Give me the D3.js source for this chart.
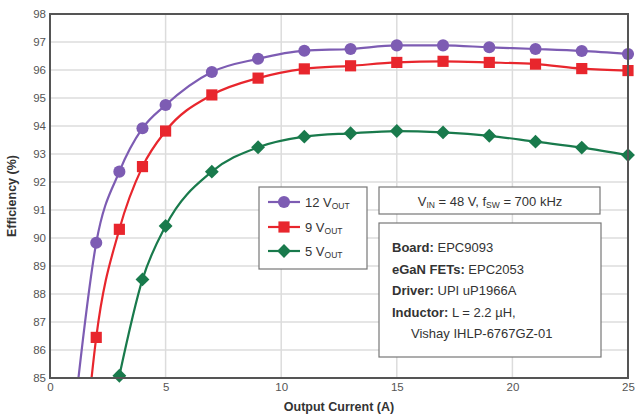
<!DOCTYPE html>
<html><head><meta charset="utf-8">
<script src="https://cdn.jsdelivr.net/npm/d3@7"></script>
<style>body{margin:0;background:#fff;} svg{display:block;font-family:"Liberation Sans",Arial,sans-serif;}</style>
</head><body>
<svg id="c" width="635" height="419"></svg>
<script>
const current12 = [1, 2, 3, 4, 5, 7, 9, 11, 13, 15, 17, 19, 21, 23, 25];
const eff12 = [83.3, 89.83, 92.37, 93.92, 94.75, 95.93, 96.4, 96.69, 96.75, 96.88, 96.88, 96.81, 96.75, 96.68, 96.57];
const current9 = [1.5, 2, 3, 4, 5, 7, 9, 11, 13, 15, 17, 19, 21, 23, 25];
const eff9 = [82.6, 86.45, 90.31, 92.55, 93.82, 95.11, 95.71, 96.04, 96.15, 96.27, 96.31, 96.27, 96.21, 96.05, 95.98];
const current5 = [3, 4, 5, 7, 9, 11, 13, 15, 17, 19, 21, 23, 25];
const eff5 = [85.08, 88.52, 90.43, 92.37, 93.24, 93.62, 93.74, 93.82, 93.77, 93.65, 93.44, 93.23, 92.96];
const seriesNames = ["12", "9", "5"];
const xTicks = [0, 5, 10, 15, 20, 25];
const yTicks = [85, 86, 87, 88, 89, 90, 91, 92, 93, 94, 95, 96, 97, 98];

const svg = d3.select("#c");
const L = 50, R = 628, T = 14, B = 378;
const x = d3.scaleLinear().domain([0, 25]).range([L, R]);
const y = d3.scaleLinear().domain([85, 98]).range([B, T]);

const defs = svg.append("defs");
defs.append("clipPath").attr("id", "clipL")
  .append("rect").attr("x", L).attr("y", T - 8).attr("width", R - L + 8).attr("height", B - T + 8);
defs.append("clipPath").attr("id", "clipM")
  .append("rect").attr("x", L).attr("y", T - 8).attr("width", R - L + 10).attr("height", B - T + 16);

// grid
svg.append("g").selectAll("line").data(yTicks.slice(1, -1)).join("line")
  .attr("x1", L).attr("x2", R).attr("y1", d => y(d)).attr("y2", d => y(d))
  .attr("stroke", "#dcdcdc").attr("stroke-width", 1.5);
svg.append("g").selectAll("line").data(xTicks.slice(1, -1)).join("line")
  .attr("y1", T).attr("y2", B).attr("x1", d => x(d)).attr("x2", d => x(d))
  .attr("stroke", "#dcdcdc").attr("stroke-width", 1.5);

// axes labels
const yAxis = d3.axisLeft(y).tickValues(yTicks).tickSize(0).tickPadding(4);
const gy = svg.append("g").attr("transform", `translate(${L},0)`).call(yAxis);
gy.select(".domain").remove();
gy.selectAll("text").attr("fill", "#555").attr("font-size", 11.5).attr("font-family", "Liberation Sans, Arial");
const xAxis = d3.axisBottom(x).tickValues(xTicks).tickSize(0).tickPadding(5);
const gx = svg.append("g").attr("transform", `translate(0,${B})`).call(xAxis);
gx.select(".domain").remove();
gx.selectAll("text").attr("fill", "#555").attr("font-size", 11.5).attr("font-family", "Liberation Sans, Arial");

svg.append("text").attr("x", (L + R) / 2).attr("y", 411).attr("text-anchor", "middle")
  .attr("font-size", 12.5).attr("font-weight", "bold").attr("fill", "#333").text("Output Current (A)");
svg.append("text").attr("transform", `translate(16,${(T + B) / 2}) rotate(-90)`).attr("text-anchor", "middle")
  .attr("font-size", 12.5).attr("font-weight", "bold").attr("fill", "#333").text("Efficiency (%)");

const series = [
  {xs: current12, ys: eff12, color: "#7d5cb3", shape: "circle"},
  {xs: current9, ys: eff9, color: "#e8262d", shape: "square"},
  {xs: current5, ys: eff5, color: "#197a4c", shape: "diamond"}
];
const line = d3.line().x(d => x(d[0])).y(d => y(d[1])).curve(d3.curveMonotoneX);
const diamondType = {draw(ctx, size) { const r = Math.sqrt(size / 2); ctx.moveTo(0, -r); ctx.lineTo(r, 0); ctx.lineTo(0, r); ctx.lineTo(-r, 0); ctx.closePath(); }};
const sym = {circle: d3.symbol(d3.symbolCircle, 115), square: d3.symbol(d3.symbolSquare, 125), diamond: d3.symbol(diamondType, 96)};

const plotL = svg.append("g").attr("clip-path", "url(#clipL)");
const plotM = svg.append("g").attr("clip-path", "url(#clipM)");
series.forEach(s => {
  const pts = s.xs.map((v, i) => [v, s.ys[i]]);
  plotL.append("path").datum(pts).attr("d", line).attr("fill", "none").attr("stroke", s.color).attr("stroke-width", 2.2);
});

// frame
svg.append("rect").attr("x", L).attr("y", T).attr("width", R - L).attr("height", B - T)
  .attr("fill", "none").attr("stroke", "#555").attr("stroke-width", 2);

series.forEach(s => {
  const pts = s.xs.map((v, i) => [v, s.ys[i]]);
  plotM.append("g").selectAll("path").data(pts).join("path")
    .attr("transform", d => `translate(${x(d[0])},${y(d[1])})`)
    .attr("d", sym[s.shape]).attr("fill", s.color);
});

// legend
const lg = svg.append("g");
lg.append("rect").attr("x", 259).attr("y", 187).attr("width", 108).attr("height", 82)
  .attr("fill", "#fff").attr("stroke", "#777").attr("stroke-width", 1.2);
const ly = [202, 227, 251];
series.forEach((s, i) => {
  lg.append("line").attr("x1", 268).attr("x2", 300).attr("y1", ly[i]).attr("y2", ly[i]).attr("stroke", s.color).attr("stroke-width", 2.2);
  lg.append("path").attr("transform", `translate(284,${ly[i]})`).attr("d", sym[s.shape]).attr("fill", s.color);
  const t = lg.append("text").attr("x", 305).attr("y", ly[i] + 5).attr("font-size", 13).attr("fill", "#333");
  t.append("tspan").text(seriesNames[i] + " V");
  t.append("tspan").attr("font-size", 8.5).attr("dy", 2).text("OUT");
});

// Vin box
svg.append("rect").attr("x", 379).attr("y", 187).attr("width", 221).attr("height", 27)
  .attr("fill", "#fff").attr("stroke", "#777").attr("stroke-width", 1.2);
const vt = svg.append("text").attr("x", 490).attr("y", 206).attr("text-anchor", "middle").attr("font-size", 13).attr("fill", "#333");
vt.append("tspan").text("V");
vt.append("tspan").attr("font-size", 8.5).attr("dy", 2).text("IN");
vt.append("tspan").attr("dy", -2).text(" = 48 V, f");
vt.append("tspan").attr("font-size", 8.5).attr("dy", 2).text("SW");
vt.append("tspan").attr("dy", -2).text(" = 700 kHz");

// board box
svg.append("rect").attr("x", 379).attr("y", 223).attr("width", 222).attr("height", 134)
  .attr("fill", "#fff").attr("stroke", "#777").attr("stroke-width", 1.2);
const info = [["Board:", " EPC9093"], ["eGaN FETs:", " EPC2053"], ["Driver:", " UPI uP1966A"], ["Inductor:", " L = 2.2 µH,"]];
const iy = [252, 274, 295, 317];
info.forEach((r, i) => {
  const t = svg.append("text").attr("x", 392).attr("y", iy[i]).attr("font-size", 13).attr("fill", "#333");
  t.append("tspan").attr("font-weight", "bold").text(r[0]);
  t.append("tspan").text(r[1]);
});
svg.append("text").attr("x", 411).attr("y", 338).attr("font-size", 13).attr("fill", "#333").text("Vishay IHLP-6767GZ-01");
</script>
</body></html>
